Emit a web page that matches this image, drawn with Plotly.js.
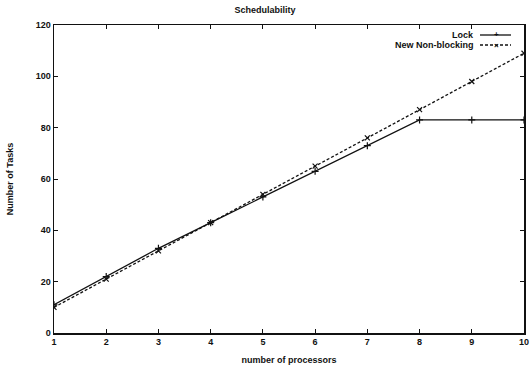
<!DOCTYPE html>
<html>
<head>
<meta charset="utf-8">
<script src="https://cdn.plot.ly/plotly-3.0.1.min.js"></script>
<style>html,body{margin:0;padding:0;background:#fff;}#chart{width:530px;height:369px;}</style>
</head>
<body>
<div id="chart"></div>
<script>
const processors = [1, 2, 3, 4, 5, 6, 7, 8, 9, 10];
const lockTasks = [11, 22, 33, 43, 53, 63, 73, 83, 83, 83];
const nonBlockingTasks = [10, 21, 32, 43, 54, 65, 76, 87, 98, 109];
const seriesNames = ["Lock", "New Non-blocking"];
const xTicks = [1, 2, 3, 4, 5, 6, 7, 8, 9, 10];
const yTicks = [0, 20, 40, 60, 80, 100, 120];

const FONT = "Liberation Sans, Arial, Helvetica, sans-serif";
const TXT = {family: FONT, size: 9, color: "#111", weight: "bold"};

const traces = [
  {
    x: processors, y: lockTasks, name: seriesNames[0], type: "scatter", mode: "lines+markers",
    line: {color: "#111", width: 1.3},
    marker: {symbol: "cross-thin-open", size: 5, color: "#111", line: {color: "#111", width: 1.2}},
    showlegend: false
  },
  {
    x: processors, y: nonBlockingTasks, name: seriesNames[1], type: "scatter", mode: "lines+markers",
    line: {color: "#111", width: 1.3, dash: "3px,2px"},
    marker: {symbol: "x-thin-open", size: 5, color: "#111", line: {color: "#111", width: 1.2}},
    showlegend: false
  }
];

const L = 54, R = 524, T = 25, B = 333;
function px(xp){ return (xp - L) / (R - L); }
function py(yp){ return (B - yp) / (B - T); }

const shapes = [
  {type: "line", xref: "paper", yref: "paper", x0: px(480), x1: px(511), y0: py(35), y1: py(35), line: {color: "#111", width: 1.3}},
  {type: "line", xref: "paper", yref: "paper", x0: px(480), x1: px(511), y0: py(45), y1: py(45), line: {color: "#111", width: 1.3, dash: "3px,2px"}}
];

const annotations = [
  {text: seriesNames[0], xref: "paper", yref: "paper", x: px(476), y: py(35), xanchor: "right", yanchor: "middle", showarrow: false, font: TXT},
  {text: seriesNames[1], xref: "paper", yref: "paper", x: px(476), y: py(45), xanchor: "right", yanchor: "middle", showarrow: false, font: TXT},
  {text: "+", xref: "paper", yref: "paper", x: px(496), y: py(35), xanchor: "center", yanchor: "middle", showarrow: false, font: {family: FONT, size: 8, color: "#111"}},
  {text: "×", xref: "paper", yref: "paper", x: px(496), y: py(45), xanchor: "center", yanchor: "middle", showarrow: false, font: {family: FONT, size: 8, color: "#111"}}
];

const layout = {
  width: 530, height: 369,
  margin: {l: L, r: 530 - R, t: T, b: 369 - B, pad: 0},
  paper_bgcolor: "#fff", plot_bgcolor: "#fff",
  font: TXT,
  title: {text: "Schedulability", x: 0.5, xanchor: "center", y: 0.972, yanchor: "middle", font: TXT},
  showlegend: false,
  xaxis: {
    range: [1, 10], tickvals: xTicks, ticktext: xTicks.map(String),
    ticks: "inside", ticklen: 4, tickwidth: 1, tickcolor: "#111",
    showline: true, linecolor: "#111", linewidth: 1.5, mirror: "allticks",
    showgrid: false, zeroline: false,
    title: {text: "number of processors", font: TXT, standoff: 10},
    tickfont: TXT
  },
  yaxis: {
    range: [0, 120], tickvals: yTicks, ticktext: yTicks.map(String),
    ticks: "inside", ticklen: 4, tickwidth: 1, tickcolor: "#111",
    showline: true, linecolor: "#111", linewidth: 1.5, mirror: "allticks",
    showgrid: false, zeroline: false,
    title: {text: "Number of Tasks", font: TXT, standoff: 20},
    tickfont: TXT
  },
  shapes: shapes,
  annotations: annotations
};

Plotly.newPlot("chart", traces, layout, {staticPlot: true, displayModeBar: false});
</script>
</body>
</html>
